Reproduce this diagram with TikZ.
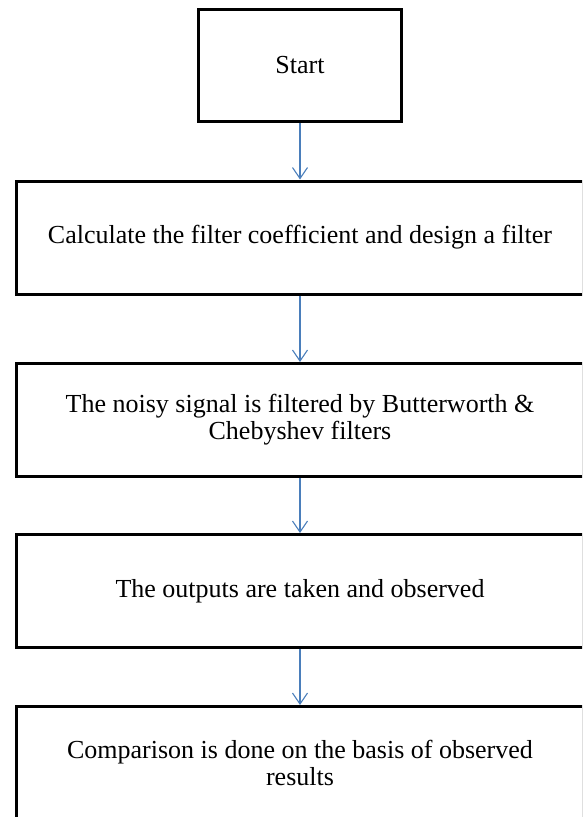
\documentclass[tikz,border=0pt]{standalone}
\usepackage{fontspec}
\setmainfont{Liberation Serif}
\usetikzlibrary{arrows.meta}
\tikzset{
  box-start/.style={draw,line width=3pt,rectangle,minimum width=203pt,minimum height=112pt,inner sep=0pt,font=\fontsize{26}{27}\selectfont},
  box-step/.style={draw,line width=3pt,rectangle,minimum width=567pt,minimum height=113pt,inner sep=0pt,align=center,font=\fontsize{26}{27}\selectfont},
  flow/.style={-{Straight Barb[length=11pt,width=15pt]},line width=1.1pt,flowblue},
}
\definecolor{flowblue}{HTML}{4A7EBB}

\begin{document}
\begin{tikzpicture}[x=1pt,y=1pt]

  \path[use as bounding box,clip] (0,0) rectangle (582,-817);

  % BOX 1: start
  \node[box-start] (start) at (300,-65.5) {Start};

  % BOX 2-5: steps
  \node[box-step] (coef)    at (300,-237.5) {Calculate the filter coefficient and design a filter};
  \node[box-step] (filt)    at (300,-420)   {The noisy signal is filtered by Butterworth \&\\Chebyshev filters};
  \node[box-step] (outp)    at (300,-591)   {The outputs are taken and observed};
  \node[box-step] (compare) at (300,-763)   {Comparison is done on the basis of observed\\results};

  \draw[flow] (start) -- (coef);
  \draw[flow] (coef)  -- (filt);
  \draw[flow] (filt)  -- (outp);
  \draw[flow] (outp)  -- (compare);

\end{tikzpicture}
\end{document}
